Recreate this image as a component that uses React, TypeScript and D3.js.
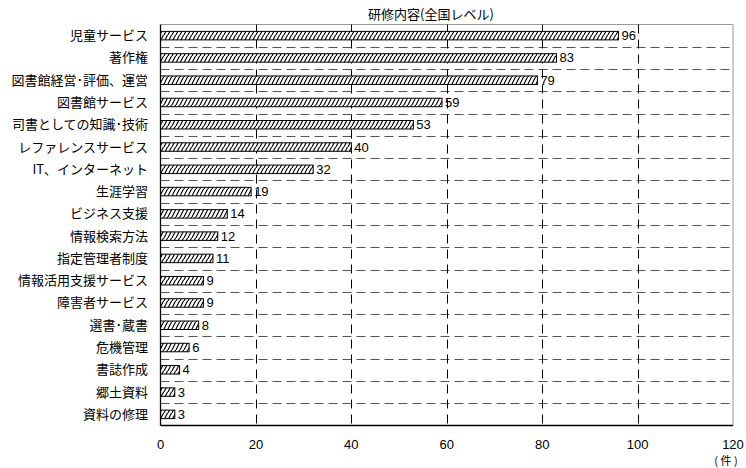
import React from "react";
import * as d3 from "d3";

const categories = [
  "児童サービス",
  "著作権",
  "図書館経営･評価、運営",
  "図書館サービス",
  "司書としての知識･技術",
  "レファレンスサービス",
  "IT、インターネット",
  "生涯学習",
  "ビジネス支援",
  "情報検索方法",
  "指定管理者制度",
  "情報活用支援サービス",
  "障害者サービス",
  "選書･蔵書",
  "危機管理",
  "書誌作成",
  "郷土資料",
  "資料の修理",
];
const values = [96, 83, 79, 59, 53, 40, 32, 19, 14, 12, 11, 9, 9, 8, 6, 4, 3, 3];
const xTicks = [0, 20, 40, 60, 80, 100, 120];
const title = "研修内容(全国レベル)";
const unit = "( 件 )";

const W = 746;
const H = 468;
const left = 160.5;
const right = 733;
const top = 24.5;
const bottom = 425.5;
const font = "'Noto Sans CJK JP', 'Noto Sans', sans-serif";
const numFont = "'Liberation Sans', Arial, sans-serif";

export default function App() {
  const x = d3.scaleLinear().domain([0, 120]).range([left, right]);
  const y = d3.scaleBand<string>().domain(categories).range([top, bottom]).paddingInner(0).paddingOuter(0);
  const bh = 8.5;
  const boundaries = categories.slice(1).map((c) => y(c)!);

  return (
    <svg
      width={W}
      height={H}
      style={{ position: "absolute", left: 0, top: 0, background: "#fff" }}
      fontFamily={font}
    >
      <defs>
        <pattern id="hatch" patternUnits="userSpaceOnUse" width={4} height={7}>
          <rect width={4} height={7} fill="#fff" />
          <path d="M-1,9 L4.5,-2 M3,9 L8.5,-2 M-5,9 L0.5,-2" stroke="#000" strokeWidth={1.1} />
        </pattern>
      </defs>
      <text x={431} y={19} textAnchor="middle" fontSize={13} fill="#000">
        {title}
      </text>
      <line x1={left} x2={right} y1={top} y2={top} stroke="#999" strokeWidth={1} />
      <line x1={right} x2={right} y1={top} y2={bottom} stroke="#999" strokeWidth={1} />
      {boundaries.map((b, i) => (
        <line
          key={"h" + i}
          x1={left}
          x2={right}
          y1={Math.round(b) + 0.5}
          y2={Math.round(b) + 0.5}
          stroke="#555"
          strokeWidth={1}
          strokeDasharray="9,5"
        />
      ))}
      {xTicks.slice(1, -1).map((t) => (
        <line
          key={"v" + t}
          x1={Math.round(x(t)) + 0.5}
          x2={Math.round(x(t)) + 0.5}
          y1={top}
          y2={bottom}
          stroke="#000"
          strokeWidth={1}
          strokeDasharray="9,6"
        />
      ))}
      {categories.map((c, i) => {
        const cy = y(c)! + y.bandwidth() / 2;
        return (
          <g key={c}>
            <rect
              x={left}
              y={cy - bh / 2}
              width={x(values[i]) - left}
              height={bh}
              fill="url(#hatch)"
              stroke="#000"
              strokeWidth={1}
            />
            <text x={x(values[i]) + 3} y={cy + 4.5} fontSize={13} fontFamily={numFont} fill="#000">
              {values[i]}
            </text>
            <text x={148} y={cy + 4.5} fontSize={13} textAnchor="end" fill="#000">
              {c}
            </text>
          </g>
        );
      })}
      <line x1={left} x2={left} y1={top} y2={bottom} stroke="#000" strokeWidth={1.3} />
      <line x1={left} x2={right} y1={bottom} y2={bottom} stroke="#000" strokeWidth={1.3} />
      {xTicks.map((t) => (
        <text key={"t" + t} x={x(t)} y={449} fontSize={13} fontFamily={numFont} textAnchor="middle" fill="#000">
          {t}
        </text>
      ))}
      <text x={726} y={465} fontSize={11} textAnchor="middle" fill="#000">
        {unit}
      </text>
    </svg>
  );
}
